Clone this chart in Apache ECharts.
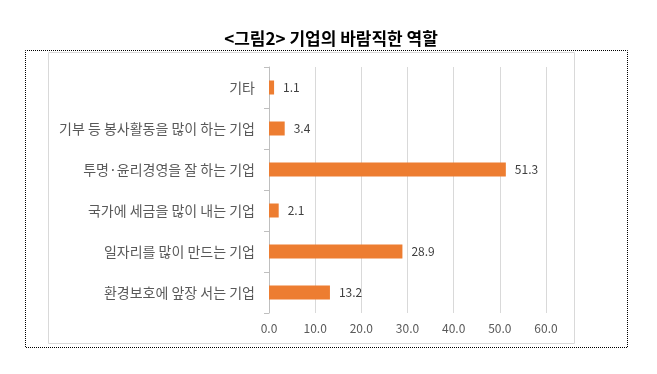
<!DOCTYPE html>
<html><head><meta charset="utf-8">
<script src="https://cdn.jsdelivr.net/npm/echarts@6/dist/echarts.min.js"></script>
<style>html,body{margin:0;padding:0;background:#fff}#c{width:657px;height:374px}</style>
</head><body><div id="c"></div>
<script>
const titleText = '<그림2> 기업의 바람직한 역할';
const categories = ['기타', '기부 등 봉사활동을 많이 하는 기업', '투명·윤리경영을 잘 하는 기업', '국가에 세금을 많이 내는 기업', '일자리를 많이 만드는 기업', '환경보호에 앞장 서는 기업'];
const values = [1.1, 3.4, 51.3, 2.1, 28.9, 13.2];
const xTicks = [0, 10, 20, 30, 40, 50, 60];

const font = '"Noto Sans CJK KR", "Noto Sans", sans-serif';
const chart = echarts.init(document.getElementById('c'), null, {renderer: 'canvas'});
chart.setOption({
  animation: false,
  textStyle: {fontFamily: font},
  title: {
    text: titleText, left: 326, top: 25, textAlign: 'center',
    textStyle: {fontFamily: font, fontSize: 17, fontWeight: 'bold', color: '#000'}
  },
  graphic: [
    {type: 'rect', shape: {x: 25.5, y: 50.5, width: 602, height: 297}, style: {fill: 'none', stroke: '#000', lineWidth: 1, lineDash: [1, 1], lineDashOffset: 0.5}, silent: true},
    {type: 'rect', shape: {x: 48.5, y: 52.5, width: 526, height: 291}, style: {fill: 'none', stroke: '#d9d9d9', lineWidth: 1}, silent: true}
  ],
  grid: {left: 269, right: 111, top: 67, bottom: 61, containLabel: false},
  xAxis: {
    type: 'value', min: xTicks[0], max: xTicks[xTicks.length - 1], interval: 10,
    axisLine: {show: false}, axisTick: {show: false},
    splitLine: {show: true, lineStyle: {color: '#d9d9d9', width: 1}},
    axisLabel: {color: '#595959', fontSize: 12, margin: 9, formatter: v => v.toFixed(1)}
  },
  yAxis: {
    type: 'category', data: categories, inverse: true,
    axisLine: {show: true, lineStyle: {color: '#bfbfbf'}},
    axisTick: {show: true, length: 5, lineStyle: {color: '#bfbfbf'}},
    axisLabel: {color: '#595959', fontSize: 14, margin: 14}
  },
  series: [{
    type: 'bar', data: values, barWidth: 14,
    itemStyle: {color: '#ED7D31'},
    label: {show: true, position: 'right', distance: 9, color: '#404040', fontSize: 12, formatter: p => p.value.toFixed(1)}
  }]
});
</script></body></html>
